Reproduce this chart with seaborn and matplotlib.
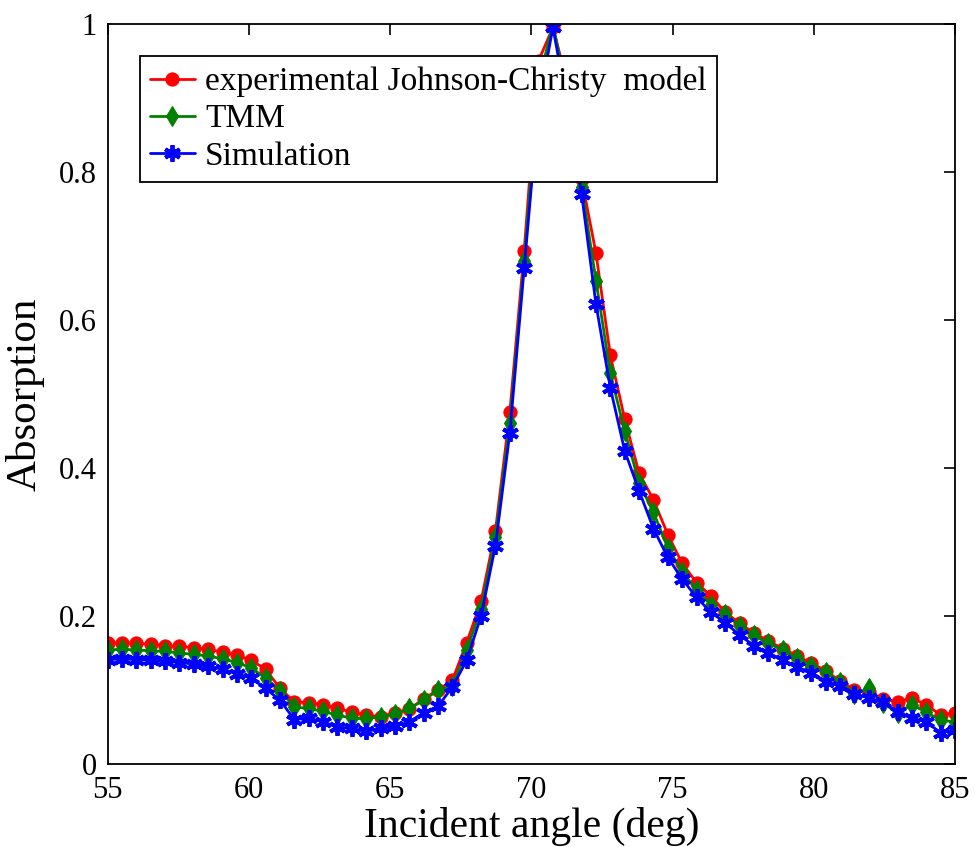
import numpy as np
import pandas as pd
import seaborn as sns
import matplotlib
matplotlib.use("Agg")
import matplotlib.pyplot as plt

# ====================================================
# DATA
# ====================================================

angle = np.linspace(55, 85, 60)

johnson_christy = [
    0.163, 0.164, 0.163, 0.162, 0.160, 0.159, 0.157, 0.155, 0.151, 0.147,
    0.140, 0.128, 0.102, 0.084, 0.083, 0.080, 0.075, 0.070, 0.066, 0.064,
    0.069, 0.074, 0.088, 0.100, 0.113, 0.164, 0.220, 0.315, 0.475, 0.693,
    0.950, 0.995, 0.920, 0.790, 0.690, 0.552, 0.466, 0.393, 0.357, 0.310,
    0.271, 0.245, 0.227, 0.205, 0.190, 0.177, 0.166, 0.156, 0.146, 0.136,
    0.126, 0.112, 0.100, 0.097, 0.088, 0.084, 0.089, 0.080, 0.066, 0.069,
]

tmm = [
    0.154, 0.155, 0.154, 0.153, 0.152, 0.150, 0.148, 0.146, 0.142, 0.137,
    0.130, 0.116, 0.099, 0.077, 0.075, 0.071, 0.066, 0.062, 0.061, 0.064,
    0.067, 0.075, 0.086, 0.100, 0.105, 0.154, 0.210, 0.306, 0.460, 0.679,
    0.920, 1.000, 0.905, 0.780, 0.653, 0.528, 0.450, 0.380, 0.340, 0.292,
    0.260, 0.235, 0.215, 0.203, 0.187, 0.174, 0.163, 0.154, 0.143, 0.133,
    0.124, 0.111, 0.095, 0.102, 0.082, 0.069, 0.080, 0.070, 0.059, 0.057,
]

simulation = [
    0.141, 0.142, 0.141, 0.140, 0.139, 0.137, 0.135, 0.132, 0.128, 0.122,
    0.116, 0.102, 0.086, 0.060, 0.062, 0.057, 0.050, 0.048, 0.044, 0.048,
    0.051, 0.057, 0.069, 0.078, 0.104, 0.140, 0.200, 0.295, 0.447, 0.670,
    0.890, 0.995, 0.890, 0.770, 0.621, 0.508, 0.423, 0.369, 0.318, 0.279,
    0.250, 0.225, 0.205, 0.191, 0.174, 0.160, 0.150, 0.140, 0.131, 0.123,
    0.111, 0.106, 0.095, 0.089, 0.084, 0.070, 0.062, 0.057, 0.042, 0.046,
]

series_labels = [
    "experimental Johnson-Christy  model",
    "TMM",
    "Simulation",
]

x_ticks = [55, 60, 65, 70, 75, 80, 85]
y_ticks = [0, 0.2, 0.4, 0.6, 0.8, 1]
y_tick_labels = ["0", "0.2", "0.4", "0.6", "0.8", "1"]

# ====================================================
# STYLE
# ====================================================

sns.set_style("white")
plt.rcParams["font.family"] = ["Liberation Serif", "DejaVu Serif"]
plt.rcParams["text.color"] = "black"
plt.rcParams["axes.labelcolor"] = "black"

fig = plt.figure(figsize=(9.79, 8.47), dpi=100)
ax = fig.add_axes([0.110, 0.098, 0.8655, 0.874])

styles = [
    dict(color="#ff0000", marker="o", markersize=9.5),
    dict(color="#008000", marker="d", markersize=10.5),
    dict(color="#0000ff", marker=(6, 2, 0), markersize=12, markeredgewidth=2.8),
]

for values, label, st in zip([johnson_christy, tmm, simulation], series_labels, styles):
    sns.lineplot(
        x=angle,
        y=values,
        ax=ax,
        label=label,
        linewidth=2,
        markeredgecolor=st["color"],
        **st
    )

# ====================================================
# AXES
# ====================================================

ax.set_xlim(55, 85)
ax.set_ylim(0, 1)
ax.set_xticks(x_ticks)
ax.set_yticks(y_ticks)
ax.set_yticklabels(y_tick_labels)

ax.tick_params(
    direction="in",
    length=8,
    width=1.2,
    top=True,
    right=True,
    labelsize=22,
    colors="black"
)
ax.tick_params(axis="x", pad=9)
ax.tick_params(axis="y", pad=8)

for spine in ax.spines.values():
    spine.set_color("black")
    spine.set_linewidth(1.3)

ax.set_xlabel("Incident angle (deg)", fontsize=30, labelpad=1, color="black")
ax.set_ylabel("Absorption", fontsize=31, labelpad=10, color="black")

leg = ax.legend(
    loc="upper left",
    bbox_to_anchor=(0.038, 0.956),
    fontsize=24,
    frameon=True,
    fancybox=False,
    framealpha=1,
    edgecolor="black",
    borderpad=0.3,
    labelspacing=0.2,
    handlelength=1.35,
    handletextpad=0.3,
    borderaxespad=0
)
leg.get_frame().set_linewidth(1.3)
for txt in leg.get_texts():
    txt.set_color("black")

plt.savefig("out.png", dpi=100)
